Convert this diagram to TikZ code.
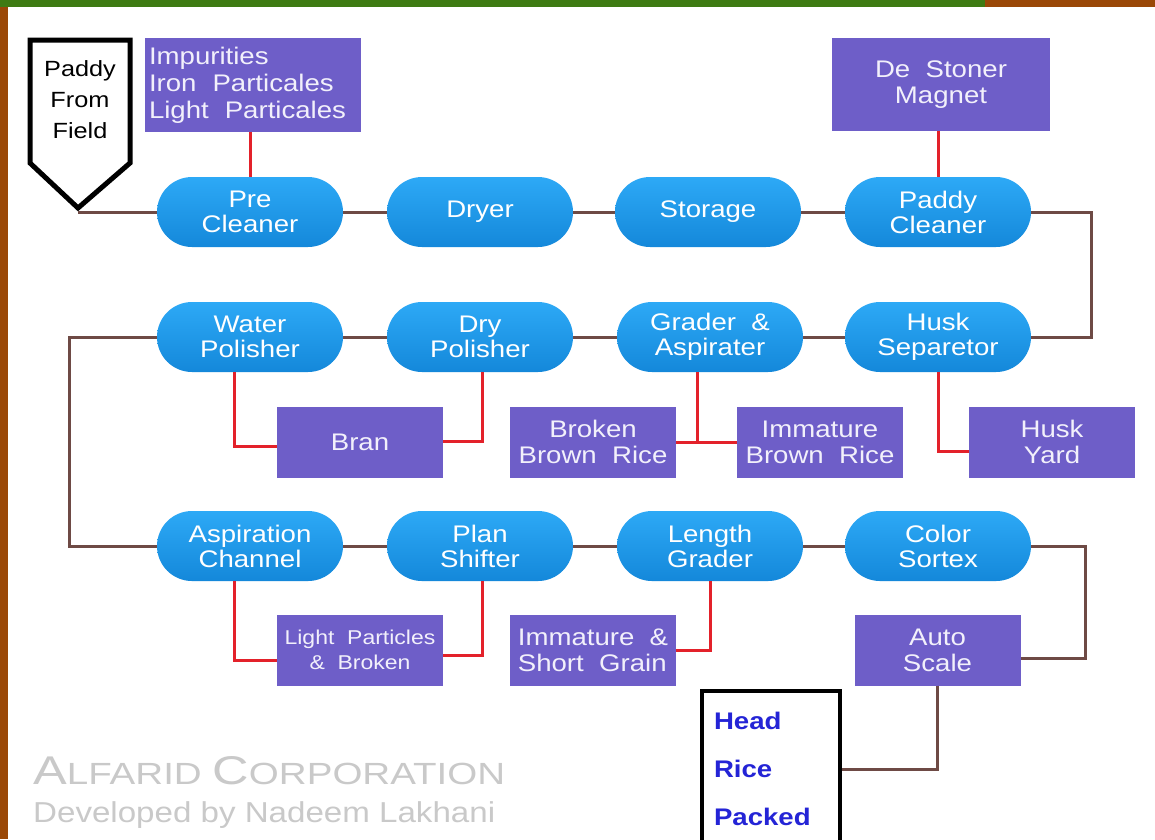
\documentclass[tikz,border=0pt]{standalone}
\usepackage{fontspec}
\usepackage{graphicx}
\setmainfont{Liberation Sans}[FakeStretch=1.15]
\usetikzlibrary{calc}
\definecolor{capTop}{HTML}{2DA9F6}
\definecolor{capBot}{HTML}{1488DA}
\definecolor{pcol}{HTML}{6E5EC8}
\definecolor{ptext}{HTML}{F2F0FB}
\definecolor{brownline}{HTML}{6E4A45}
\definecolor{redline}{HTML}{E3212A}
\definecolor{headblue}{HTML}{2424D6}
\definecolor{framebrown}{HTML}{9A4807}
\definecolor{framegreen}{HTML}{3E7B13}
\definecolor{wmgrey}{HTML}{C9C9C9}
\tikzset{
  capsule/.style={top color=capTop, bottom color=capBot, rounded corners=35pt,
    minimum width=186pt, minimum height=70pt, inner sep=0pt, text=white,
    align=center, font=\fontsize{24}{25}\selectfont},
  pbox/.style={fill=pcol, text=ptext, minimum width=166pt, minimum height=71pt,
    inner sep=2pt, align=center, font=\fontsize{24}{26}\selectfont},
  flow/.style={draw=brownline, line width=3pt},
  waste/.style={draw=redline, line width=3pt}
}
\begin{document}
\begin{tikzpicture}[x=1pt,y=-1pt]
\useasboundingbox (0,0) rectangle (1155,839);
\fill[white] (0,0) rectangle (1155,839);
% frame
\fill[framebrown] (0,0) rectangle (8,839);
\fill[framegreen] (0,0) rectangle (985,7);
\fill[framebrown] (985,0) rectangle (1155,7);

% start shape
\draw[line width=5pt, line join=miter, fill=white] (30,40) -- (130,40) -- (130,163) -- (78,208) -- (30,163) -- cycle;
\node[font=\fontsize{22}{31}\selectfont, align=center] (paddy) at (80,100) {Paddy\\From\\Field};
\coordinate (tip) at (78,212);

% capsules
\node[capsule] (pc)  at (250,212) {Pre\\Cleaner};
\node[capsule] (dr)  at (480,212) {Dryer};
\node[capsule] (st)  at (708,212) {Storage};
\node[capsule] (pcl) at (938,212) {Paddy\\Cleaner};
\node[capsule] (wp)  at (250,337) {Water\\Polisher};
\node[capsule] (dp)  at (480,337) {Dry\\Polisher};
\node[capsule] (ga)  at (710,337) {Grader \ \&\\Aspirater};
\node[capsule] (hs)  at (938,337) {Husk\\Separetor};
\node[capsule] (ac)  at (250,546) {Aspiration\\Channel};
\node[capsule] (ps)  at (480,546) {Plan\\Shifter};
\node[capsule] (lg)  at (710,546) {Length\\Grader};
\node[capsule] (cs)  at (938,546) {Color\\Sortex};

% purple boxes
\node[pbox, minimum width=216pt, minimum height=94pt, text width=208pt, align=left,
  font=\fontsize{24}{27}\selectfont] (imp) at (253,85) {Impurities\\Iron \ Particales\\Light \ Particales};
\node[pbox, minimum width=218pt, minimum height=93pt] (ds) at (941,84.5) {De \ Stoner\\Magnet};
\node[pbox] (bran) at (360,442) {Bran};
\node[pbox] (bbr)  at (593,442) {Broken\\Brown \ Rice};
\node[pbox] (ibr)  at (820,442) {Immature\\Brown \ Rice};
\node[pbox] (hy)   at (1052,442) {Husk\\Yard};
\node[pbox, font=\fontsize{20}{25}\selectfont] (lp) at (360,650) {Light \ Particles\\\& \ Broken};
\node[pbox, align=left] (isg) at (593,650) {Immature \ \&\\Short \ Grain};
\node[pbox] (as) at (937.5,650) {Auto\\Scale};

% end box
\node[draw=black, line width=4pt, fill=white, anchor=north west, minimum width=138pt,
  minimum height=156pt, text width=114pt, inner xsep=12pt, align=left, text=headblue,
  font=\bfseries\fontsize{24}{48}\selectfont] (head) at (700,689) {Head\\Rice\\Packed};

% main flow
\draw[flow] (tip) -- (tip -| pc.west);
\draw[flow] (pc) -- (dr);
\draw[flow] (dr) -- (st);
\draw[flow] (st) -- (pcl);
\draw[flow] (pcl.east) -- ++(60,0) |- (hs.east);
\draw[flow] (hs) -- (ga);
\draw[flow] (ga) -- (dp);
\draw[flow] (dp) -- (wp);
\draw[flow] (wp.west) -- ++(-87,0) |- (ac.west);
\draw[flow] (ac) -- (ps);
\draw[flow] (ps) -- (lg);
\draw[flow] (lg) -- (cs);
\draw[flow] (cs.east) -- ++(54,0) |- ([yshift=-8pt]as.east);
\draw[flow] (as.south) |- (head.east);

% waste outputs
\draw[waste] (imp.south -| pc.north) -- (pc.north);
\draw[waste] (ds.south -| pcl.north) -- (pcl.north);
\draw[waste] ([xshift=-16pt]wp.south) |- ([yshift=-4pt]bran.west);
\draw[waste] ([xshift=2pt]dp.south) |- ([yshift=1pt]bran.east);
\coordinate (gaS) at ([xshift=-13pt]ga.south);
\draw[waste] (bbr.east) -- (ibr.west);
\draw[waste] (gaS) -- (gaS |- bbr.east);
\draw[waste] (hs.south) |- ([yshift=-9pt]hy.west);
\draw[waste] ([xshift=-16pt]ac.south) |- ([yshift=-10pt]lp.west);
\draw[waste] ([xshift=2pt]ps.south) |- ([yshift=-5pt]lp.east);
\draw[waste] (lg.south) |- (isg.east);

% watermark text
\node[anchor=west, text=wmgrey, inner sep=0pt] (alf) at (33,771)
  {\resizebox{472pt}{28pt}{\fontsize{38}{38}\selectfont A\fontsize{29}{29}\selectfont LFARID \fontsize{38}{38}\selectfont C\fontsize{29}{29}\selectfont ORPORATION}};
\node[anchor=west, text=wmgrey, inner sep=0pt] (dev) at (33,815)
  {\resizebox{462pt}{!}{\fontsize{28}{28}\selectfont Developed by Nadeem Lakhani}};
\end{tikzpicture}
\end{document}
